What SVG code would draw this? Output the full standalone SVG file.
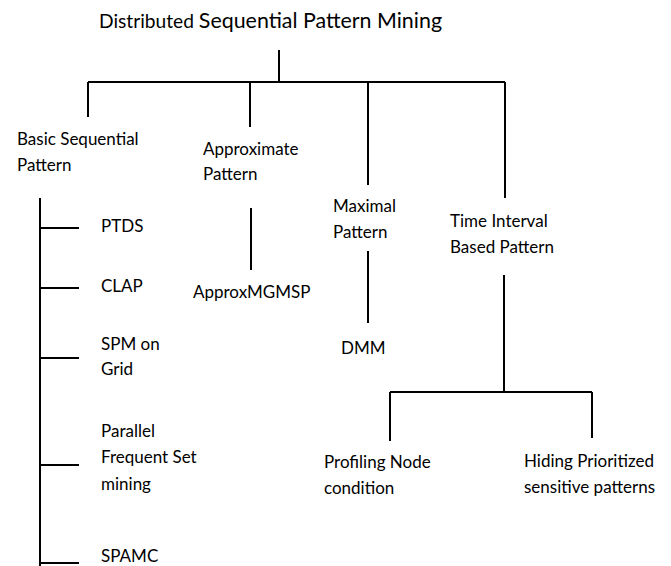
<svg xmlns="http://www.w3.org/2000/svg" width="671" height="566" viewBox="0 0 671 566">
<style>
text { font-family: Lato, "Open Sans", "Liberation Sans", sans-serif; font-size: 17px; fill: #000; }
.t1 { font-size: 19.2px; }
.t2 { font-size: 21.4px; }
.c { stroke: #000; stroke-width: 2; fill: none; }
</style>
<rect width="671" height="566" fill="#fff"/>
<g id="connectors" class="c">
<path d="M279,50 V82 M88,82 H505 M88,82 V117 M250,82 V127 M368,82 V185 M505,82 V198"/>
<path d="M251,208 V270"/>
<path d="M40,198 V566 M40,228 H79 M40,288 H79 M40,358 H79 M40,465 H79 M40,563 H79"/>
<path d="M368,251 V323"/>
<path d="M504,275 V392 M390,392 H592 M390,392 V441 M592,392 V438"/>
</g>
<g id="root"><text x="99" y="28"><tspan class="t1">Distributed </tspan><tspan class="t2">Sequential Pattern Mining</tspan></text></g>
<g id="basic"><text x="17" y="145">Basic Sequential</text><text x="17" y="171">Pattern</text></g>
<g id="approximate"><text x="203" y="155">Approximate</text><text x="203" y="180">Pattern</text></g>
<g id="approxmgmsp"><text x="193" y="298">ApproxMGMSP</text></g>
<g id="maximal"><text x="333" y="212">Maximal</text><text x="333" y="238">Pattern</text></g>
<g id="dmm"><text x="341" y="354">DMM</text></g>
<g id="timeinterval"><text x="450" y="227">Time Interval</text><text x="450" y="253">Based Pattern</text></g>
<g id="profiling"><text x="324" y="468">Profiling Node</text><text x="324" y="494">condition</text></g>
<g id="hiding"><text x="524" y="467">Hiding Prioritized</text><text x="524" y="493">sensitive patterns</text></g>
<g id="ptds"><text x="101" y="232">PTDS</text></g>
<g id="clap"><text x="101" y="292">CLAP</text></g>
<g id="spmgrid"><text x="101" y="350">SPM on</text><text x="101" y="375">Grid</text></g>
<g id="parallel"><text x="101" y="437">Parallel</text><text x="101" y="463">Frequent Set</text><text x="101" y="490">mining</text></g>
<g id="spamc"><text x="101" y="562">SPAMC</text></g>
</svg>
